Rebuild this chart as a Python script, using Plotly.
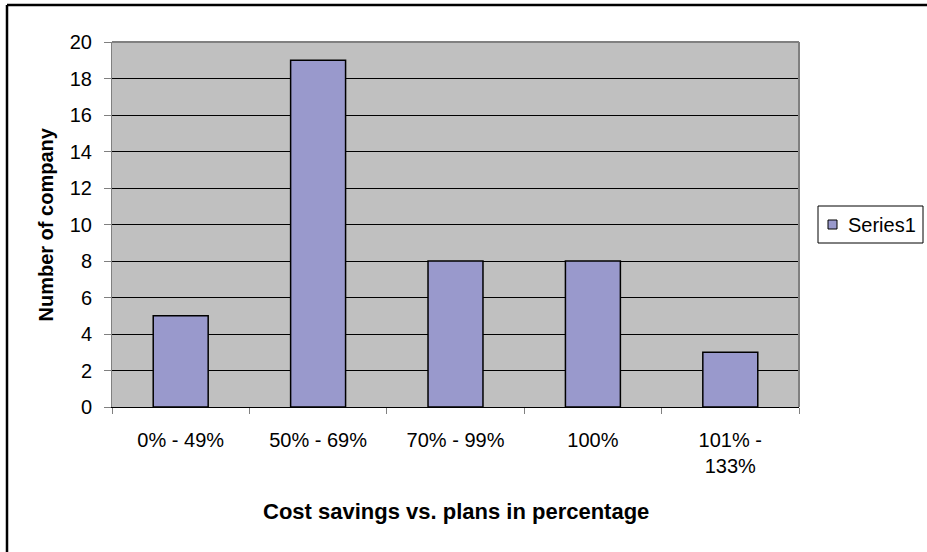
import plotly.graph_objects as go

categories = ["0% - 49%", "50% - 69%", "70% - 99%", "100%", "101% -<br>133%"]
values = [5, 19, 8, 8, 3]
series_name = "Series1"
x_title = "Cost savings vs. plans in percentage"
y_title = "Number of company"
y_ticks = list(range(0, 21, 2))

BAR_COLOR = "#9999CC"

W, H = 927, 552
L, R, T, B = 112, 799, 42, 407  # plot area in pixels


def px_x(p):
    return (p - L) / (R - L)


def px_y(p):
    return (B - p) / (B - T)


FONT = "Liberation Sans, Arial, sans-serif"

fig = go.Figure()
fig.add_trace(go.Bar(
    x=categories, y=values, name=series_name,
    marker=dict(color=BAR_COLOR, line=dict(color="black", width=1.5)),
    showlegend=False,
))

# legend box geometry (pixels)
LG_L, LG_R, LG_T, LG_B = 818, 923, 206, 243
LG_MID = (LG_T + LG_B) / 2

fig.update_layout(
    width=W, height=H,
    margin=dict(l=L, r=W - R, t=T, b=H - B, pad=0, autoexpand=False),
    paper_bgcolor="white",
    plot_bgcolor="#C0C0C0",
    bargap=0.6,
    font=dict(family=FONT, size=20, color="black"),
    showlegend=False,
    xaxis=dict(
        type="category", range=[-0.5, 4.5],
        tickson="boundaries", ticks="outside", ticklen=6, tickcolor="#808080",
        showline=True, linecolor="black", linewidth=1,
        showgrid=False, zeroline=False,
        tickfont=dict(family=FONT, size=20, color="black"),
        ticklabelstandoff=15,
    ),
    yaxis=dict(
        range=[0, 20], tickvals=y_ticks,
        ticks="outside", ticklen=7, tickcolor="#808080",
        showline=True, linecolor="#808080", linewidth=1,
        showgrid=True, gridcolor="black", gridwidth=1,
        zeroline=False,
        tickfont=dict(family=FONT, size=20, color="black"),
        ticklabelstandoff=8,
    ),
    annotations=[
        dict(text=f"<b>{x_title}</b>", xref="paper", yref="paper",
             x=0.5, y=px_y(511), xanchor="center", yanchor="middle",
             showarrow=False, font=dict(family=FONT, size=22, color="black")),
        dict(text=f"<b>{y_title}</b>", xref="paper", yref="paper",
             x=px_x(45), y=0.5, xanchor="center", yanchor="middle",
             textangle=-90, showarrow=False,
             font=dict(family=FONT, size=20, color="black")),
        # legend label
        dict(text=series_name, xref="paper", yref="paper",
             x=px_x(846), y=px_y(LG_MID), xanchor="left", yanchor="middle",
             showarrow=False, font=dict(family=FONT, size=20, color="black")),
    ],
    shapes=[
        # plot area border (top and right)
        dict(type="line", xref="paper", yref="paper", x0=0, x1=1, y0=1, y1=1,
             line=dict(color="#808080", width=2), layer="above"),
        dict(type="line", xref="paper", yref="paper", x0=1, x1=1, y0=0, y1=1,
             line=dict(color="#808080", width=2), layer="above"),
        # outer chart border (top and left visible)
        dict(type="line", xref="paper", yref="paper",
             x0=px_x(7), x1=px_x(W + 5), y0=px_y(5), y1=px_y(5),
             line=dict(color="black", width=2.5), layer="above"),
        dict(type="line", xref="paper", yref="paper",
             x0=px_x(7), x1=px_x(7), y0=px_y(5), y1=px_y(H + 5),
             line=dict(color="black", width=2.5), layer="above"),
        # legend box
        dict(type="rect", xref="paper", yref="paper",
             x0=px_x(LG_L), x1=px_x(LG_R), y0=px_y(LG_B), y1=px_y(LG_T),
             line=dict(color="black", width=1), fillcolor="white", layer="above"),
        # legend swatch
        dict(type="rect", xref="paper", yref="paper",
             x0=px_x(828), x1=px_x(837), y0=px_y(LG_MID + 4.5), y1=px_y(LG_MID - 4.5),
             line=dict(color="black", width=1), fillcolor=BAR_COLOR, layer="above"),
    ],
)

fig.write_html("out.html")
